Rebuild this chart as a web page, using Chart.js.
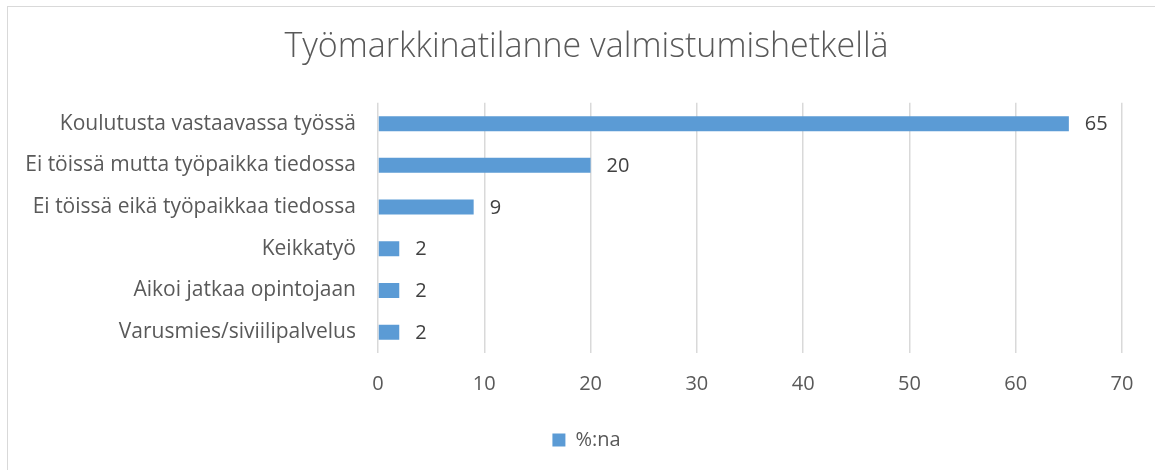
<!DOCTYPE html>
<html>
<head>
<meta charset="utf-8">
<script src="https://cdn.jsdelivr.net/npm/chart.js@4/dist/chart.umd.min.js"></script>
<style>
  html, body { margin: 0; padding: 0; background: #fff; overflow: hidden; }
  #wrap { position: absolute; left: 0; top: 0; width: 1173px; height: 470px; }
</style>
</head>
<body>
<div id="wrap"><canvas id="c" width="1173" height="470"></canvas></div>
<script>
const categories = [
  "Koulutusta vastaavassa työssä",
  "Ei töissä mutta työpaikka tiedossa",
  "Ei töissä eikä työpaikkaa tiedossa",
  "Keikkatyö",
  "Aikoi jatkaa opintojaan",
  "Varusmies/siviilipalvelus"
];
const values = [65, 20, 9, 2, 2, 2];
const seriesName = "%:na";
const titleText = "Työmarkkinatilanne valmistumishetkellä";
const xMin = 0, xMax = 70, xStep = 10;

const FONT = "'Open Sans', 'Noto Sans', sans-serif";
const TEXT = "#595959";

const frame = {
  id: 'frame',
  beforeDraw(chart) {
    const ctx = chart.ctx;
    ctx.save();
    ctx.fillStyle = '#fff';
    ctx.fillRect(0, 0, chart.width, chart.height);
    ctx.strokeStyle = '#d9d9d9';
    ctx.lineWidth = 1;
    ctx.strokeRect(7.5, 6.5, 1300, 600);
    ctx.restore();
  }
};

const valueLabels = {
  id: 'valueLabels',
  afterDatasetsDraw(chart) {
    const ctx = chart.ctx;
    ctx.save();
    ctx.font = "20px " + FONT;
    ctx.fillStyle = "#404040";
    ctx.textBaseline = 'middle';
    ctx.textAlign = 'left';
    chart.getDatasetMeta(0).data.forEach((bar, i) => {
      ctx.fillText(String(chart.data.datasets[0].data[i]), bar.x + 16, bar.y + 1);
    });
    ctx.restore();
  }
};

new Chart(document.getElementById('c'), {
  type: 'bar',
  data: {
    labels: categories,
    datasets: [{
      label: seriesName,
      data: values,
      backgroundColor: '#5B9BD5',
      borderWidth: 0,
      barPercentage: 0.72,
      categoryPercentage: 0.5
    }]
  },
  options: {
    indexAxis: 'y',
    responsive: false,
    animation: false,
    layout: { padding: { left: 0, right: 0, top: 0, bottom: 10 } },
    plugins: {
      title: {
        display: true,
        text: titleText,
        color: TEXT,
        font: { family: FONT, size: 34, weight: '300' },
        padding: { top: 27, bottom: 35 }
      },
      legend: {
        display: true,
        position: 'bottom',
        labels: {
          color: TEXT,
          font: { family: FONT, size: 20 },
          boxWidth: 13,
          boxHeight: 13,
          padding: 10
        }
      },
      tooltip: { enabled: false }
    },
    scales: {
      x: {
        min: xMin,
        max: xMax,
        ticks: { stepSize: xStep, color: TEXT, font: { family: FONT, size: 20 }, padding: 19 },
        grid: { color: '#d9d9d9', lineWidth: 1.5, drawTicks: false },
        border: { display: false },
        afterFit(scale) { scale.height = 67; }
      },
      y: {
        ticks: { color: TEXT, font: { family: FONT, size: 21 }, padding: 22 },
        grid: { display: false, drawTicks: false },
        border: { display: false },
        afterFit(scale) { scale.width = 378; }
      },
      spacer: {
        type: 'category',
        position: 'right',
        display: true,
        ticks: { display: false },
        grid: { display: false, drawTicks: false },
        border: { display: false },
        afterFit(scale) { scale.width = 51; }
      }
    }
  },
  plugins: [frame, valueLabels]
});
</script>
</body>
</html>
